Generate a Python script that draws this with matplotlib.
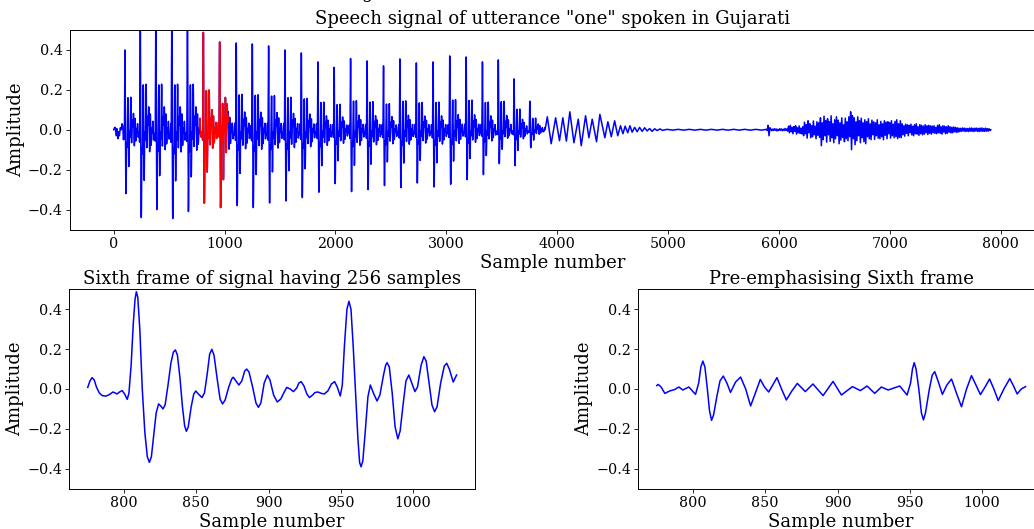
import numpy as np
import matplotlib
matplotlib.use("Agg")
import matplotlib.pyplot as plt

plt.rcParams['font.family'] = ['DejaVu Serif']

# ---------------- data ----------------
# Sixth frame (samples 775..1030) -- keypoints of the waveform
frame_x = [775, 776.5, 778, 779.5, 781, 783, 785, 787.5, 790, 792.4, 794, 795.2, 797, 798.8,
           800.5, 802.3, 803.5, 805, 806.5, 807.7, 808.6, 809.6, 811, 812.7, 814.5, 816.2,
           817.6, 819, 820.5, 822.3, 824, 825.5, 827, 828.5, 830.5, 832.5, 834.2, 835.6,
           837, 838.7, 840.5, 842, 843.2, 844.5, 846.5, 848.3, 849.7, 851.5, 854, 855.7,
           857.5, 859.3, 860.8, 862.3, 864.5, 866.5, 868.2, 870, 872.5, 874.5, 875.6, 877.5,
           879.5, 881.5, 883.5, 884.9, 886.5, 889, 891.3, 893, 894.7, 897, 899.2, 901,
           903.5, 906, 908.5, 910.5, 912.6, 915, 917.2, 919.5, 921, 922.5, 924.5, 926.5,
           928.3, 930.5, 932, 934.1, 936.5, 938.5, 941, 943.5, 945.7, 947.5, 949.6, 951,
           952.5, 954.2, 955.6, 957, 958.5, 960.2, 961.8, 963, 964, 965.2, 966.8, 968.7,
           970.4, 972.5, 975, 977, 979.5, 981, 982, 983.5, 985.5, 987.5, 989.4, 991, 993,
           995, 997, 999, 1001.2, 1003, 1005.5, 1007.4, 1009, 1011, 1013, 1014.8, 1016.5,
           1019, 1021.5, 1023.2, 1025, 1027.7, 1030]
frame_y = [0.008, 0.040, 0.057, 0.045, 0.010, -0.020, -0.033, -0.036, -0.028, -0.015, -0.020,
           -0.025, -0.015, -0.008, -0.025, -0.052, -0.020, 0.120, 0.330, 0.450, 0.488, 0.460,
           0.300, 0.000, -0.220, -0.340, -0.368, -0.340, -0.240, -0.120, -0.075, -0.085,
           -0.100, -0.080, 0.020, 0.130, 0.185, 0.196, 0.170, 0.060, -0.090, -0.185, -0.212,
           -0.190, -0.090, -0.025, -0.010, -0.025, -0.043, -0.020, 0.070, 0.175, 0.199,
           0.170, 0.050, -0.050, -0.075, -0.055, 0.010, 0.050, 0.059, 0.040, 0.020, 0.040,
           0.090, 0.100, 0.085, 0.010, -0.070, -0.092, -0.070, 0.030, 0.069, 0.045, -0.030,
           -0.065, -0.050, -0.020, 0.008, 0.000, -0.013, 0.005, 0.030, 0.037, 0.015, -0.025,
           -0.043, -0.030, -0.018, -0.015, -0.022, -0.025, -0.010, 0.025, 0.037, 0.010,
           -0.035, 0.020, 0.220, 0.400, 0.440, 0.400, 0.220, -0.020, -0.250, -0.370, -0.390,
           -0.360, -0.220, -0.040, 0.020, -0.020, -0.060, -0.030, 0.070, 0.120, 0.132, 0.110,
           -0.020, -0.190, -0.250, -0.210, -0.080, 0.040, 0.070, 0.030, -0.013, 0.010, 0.120,
           0.162, 0.140, 0.030, -0.080, -0.114, -0.090, 0.030, 0.115, 0.129, 0.100, 0.035,
           0.070]

# Pre-emphasised sixth frame -- keypoints
pre_x = [775, 776, 778, 780.6, 783.9, 787.3, 790.3, 793, 797.2, 801.8, 804, 805.5, 806.9,
         808.3, 810, 811.5, 812.9, 814.3, 816.5, 818.7, 821, 823.5, 826, 829.5, 833, 836.5,
         839.9, 843.2, 846.6, 849.5, 852.4, 855.2, 858.1, 861.3, 864.6, 868.4, 872.2, 877.7,
         883, 890, 896.9, 902.7, 910.3, 915.8, 920.4, 925.7, 930.3, 935, 943, 948.1, 950.5,
         951.8, 953, 954.3, 956.2, 958, 959.4, 960.8, 963.5, 965.5, 967.2, 969.5, 972.5,
         975.6, 978.8, 982.2, 985.7, 989.2, 992.6, 995.7, 998.8, 1002, 1005.1, 1008.1,
         1011.1, 1015, 1019.1, 1021.7, 1024.2, 1027, 1030]
pre_y = [0.017, 0.023, 0.010, -0.022, -0.010, -0.003, 0.010, -0.005, 0.010, -0.027, 0.030,
         0.110, 0.140, 0.110, 0.000, -0.110, -0.157, -0.130, -0.040, 0.040, 0.065, 0.030,
         -0.017, 0.035, 0.060, 0.000, -0.085, -0.020, 0.048, 0.010, -0.015, 0.020, 0.057,
         0.000, -0.055, -0.010, 0.028, -0.013, 0.025, -0.033, 0.038, -0.030, 0.012, -0.008,
         0.015, -0.022, 0.010, -0.005, 0.015, -0.030, 0.030, 0.100, 0.132, 0.100, 0.000,
         -0.120, -0.155, -0.120, 0.000, 0.070, 0.087, 0.040, -0.027, 0.020, 0.050, -0.020,
         -0.089, 0.000, 0.067, 0.020, -0.028, 0.010, 0.050, 0.000, -0.058, 0.000, 0.052,
         0.015, -0.025, 0.000, 0.012]

# Full utterance: onset wiggles
start_x = [0, 8, 15, 22, 30, 38, 45, 52, 60, 68, 75, 82, 88]
start_y = [0.0, 0.010, 0.012, -0.030, 0.005, -0.045, -0.010, -0.030, 0.010, 0.000, 0.030,
           0.020, -0.050]

# Glottal pulses: sample position, peak and trough amplitude
pulse_pos = [102, 240, 380, 524, 665, 808.6, 955.6, 1105, 1250, 1397, 1545, 1692, 1842,
             1988, 2136, 2285, 2433, 2581, 2729, 2880, 3030, 3178, 3325, 3468, 3610, 3752]
pulse_peak = [0.40, 0.56, 0.56, 0.56, 0.56, 0.488, 0.44, 0.435, 0.43, 0.42, 0.40, 0.385,
              0.34, 0.313, 0.357, 0.345, 0.32, 0.355, 0.335, 0.34, 0.37, 0.365, 0.34, 0.35,
              0.255, 0.143]
pulse_trough = [-0.32, -0.44, -0.40, -0.445, -0.41, -0.368, -0.39, -0.38, -0.39, -0.367,
                -0.357, -0.34, -0.313, -0.27, -0.31, -0.30, -0.28, -0.29, -0.267, -0.287,
                -0.273, -0.25, -0.225, -0.17, -0.18, -0.09]

# Decaying vowel tail and silence
tail_x = [3910, 3945, 3985, 4020, 4050, 4082, 4113, 4150, 4189, 4216, 4255, 4285, 4315,
          4354, 4384, 4429, 4456, 4487, 4517, 4545, 4570, 4592, 4612, 4635, 4655, 4675,
          4698, 4720, 4742, 4765, 4788, 4810, 4832, 4855, 4878, 4900, 4925, 4950, 4990,
          5040, 5090, 5140, 5190, 5240, 5290, 5340, 5390, 5440, 5490, 5540, 5590, 5640,
          5690, 5740, 5790, 5840, 5875]
tail_y = [0.065, -0.070, 0.060, -0.055, 0.060, -0.057, 0.090, -0.065, 0.053, -0.080, 0.070,
          -0.040, 0.053, -0.060, 0.077, -0.040, 0.040, -0.035, 0.045, -0.030, 0.020, -0.020,
          0.018, -0.015, 0.020, -0.012, 0.012, -0.010, 0.012, -0.008, 0.010, -0.006, 0.006,
          -0.008, 0.005, -0.004, 0.004, -0.003, 0.002, -0.002, 0.002, -0.002, 0.002, -0.002,
          0.002, -0.002, 0.002, -0.002, 0.002, -0.002, 0.002, -0.002, 0.002, -0.002, 0.002,
          -0.002, 0.001]

# Final fricative noise, one value every 8 samples from 5885
noise_start = 5885
noise_step = 8
noise_y = [
    0.002, -0.004,
    0.022, -0.030, 0.010,
    0.004, -0.005, 0.003, -0.004, 0.005, -0.003, 0.004, -0.006, 0.002, -0.004,
    0.005, -0.003, 0.004, -0.005, 0.003, -0.004, 0.006, -0.003, 0.004, -0.007,
    0.018, -0.015, 0.022, -0.010, 0.012, -0.020, 0.016, -0.008, 0.020, -0.022,
    0.010, -0.015, 0.019, -0.018, 0.008, -0.021, 0.015,
    -0.030, 0.038, -0.020, 0.025, -0.042, 0.045, -0.015, 0.030, -0.040, 0.020,
    -0.035, 0.044, -0.025, 0.018, -0.045, 0.040, -0.028, 0.035, -0.038,
    0.060, -0.080, 0.035, -0.050, 0.068, -0.030, 0.045, -0.062, 0.055, -0.025,
    0.040, -0.058, 0.070, -0.040, 0.030, -0.065, 0.050, -0.045, 0.065, -0.030,
    0.048, -0.070, 0.035, -0.052, 0.060, -0.038, 0.025, -0.060, 0.058, -0.045,
    0.040, -0.055, 0.065, -0.035,
    0.090, -0.100, 0.070,
    -0.045, 0.060, -0.075, 0.040, -0.055, 0.065, -0.030, 0.045, -0.065, 0.058,
    -0.040, 0.035, -0.060, 0.050, -0.070, 0.040, -0.035,
    0.055, -0.045, 0.030, -0.050, 0.048, -0.025, 0.040, -0.048, 0.035, -0.030,
    0.050, -0.042, 0.025, -0.045, 0.042, -0.035, 0.030, -0.050, 0.045, -0.028,
    0.038, -0.045, 0.040, -0.020, 0.035, -0.042, 0.045, -0.030, 0.028, -0.040,
    0.042, -0.035, 0.050, -0.045, 0.030, -0.038, 0.045, -0.040,
    0.030, -0.025, 0.020, -0.032, 0.028, -0.018, 0.025, -0.030, 0.022, -0.015,
    0.028, -0.026, 0.018, -0.030, 0.025, -0.020, 0.030, -0.022, 0.015, -0.028,
    0.026, -0.020, 0.022, -0.025, 0.018, -0.022, 0.025, -0.015, 0.020, -0.024,
    0.022, -0.018, 0.020, -0.022,
    0.018, -0.015, 0.020, -0.018, 0.012, -0.020, 0.022, -0.015, 0.025, -0.018,
    0.015, -0.022, 0.020, -0.012, 0.018, -0.020, 0.015, -0.018, 0.020, -0.012,
    0.015, -0.016, 0.012, -0.015, 0.014, -0.010, 0.012, -0.013, 0.010, -0.012,
    0.008, -0.009, 0.007, -0.008, 0.009, -0.006, 0.008, -0.009, 0.007, -0.008,
    0.006, -0.009, 0.008, -0.007, 0.009, -0.008, 0.007, -0.009, 0.008, -0.006,
    0.008, -0.008, 0.007, -0.009, 0.008, -0.007, 0.009, -0.008, 0.006, -0.008,
    0.008, -0.007, 0.006, -0.007, 0.005, -0.004, 0.000]

frame_start, frame_end = 775, 1030

# ---------------- build the full utterance from the read pieces ----------------
fx = np.array(frame_x)
fy = np.array(frame_y)
ref_peak = fx[np.argmax(fy)]
ref_pos = fy.max()
ref_neg = -fy[(fx > ref_peak) & (fx < ref_peak + 15)].min()
tm = (fx >= ref_peak - 8.5) & (fx <= ref_peak + 140)
t_off, t_val = fx[tm] - ref_peak, fy[tm]

xs, ys = list(start_x), list(start_y)
for k, p in enumerate(pulse_pos):
    nxt = pulse_pos[k + 1] if k + 1 < len(pulse_pos) else p + 150
    for o, v in zip(t_off, t_val):
        x = p + o
        if x <= xs[-1] or x >= nxt + t_off[0]:
            continue
        s = pulse_peak[k] / ref_pos if v > 0 else -pulse_trough[k] / ref_neg
        xs.append(x)
        ys.append(v * s)
xs, ys = np.array(xs), np.array(ys)
before = xs < frame_start
after = xs > frame_end
sig_x = np.concatenate([xs[before], fx, xs[after]])
sig_y = np.concatenate([ys[before], fy, ys[after]])
tx, ty = np.array(tail_x), np.array(tail_y)
tmask = tx > sig_x[-1]
sig_x = np.concatenate([sig_x, tx[tmask]])
sig_y = np.concatenate([sig_y, ty[tmask]])
nx = noise_start + noise_step * np.arange(len(noise_y))
sig_x = np.concatenate([sig_x, nx])
sig_y = np.concatenate([sig_y, np.array(noise_y)])

# ---------------- figure ----------------
W, H = 1034, 529
fig = plt.figure(figsize=(W / 100, H / 100), dpi=100)

ax_top = fig.add_axes([69.8 / W, (H - 229.5) / H, 965 / W, 199.5 / H])
ax_bl = fig.add_axes([69.3 / W, (H - 488.7) / H, 405.7 / W, 199.4 / H])
ax_br = fig.add_axes([638.3 / W, (H - 488.7) / H, 405.7 / W, 199.4 / H])

lw = 1.1
ax_top.plot(sig_x, sig_y, color='b', lw=lw)
ax_top.plot(fx, fy, color='r', lw=lw)
ax_top.set_xlim(-395.5, 8305.5)
ax_top.set_title('Speech signal of utterance "one" spoken in Gujarati', fontsize=13, pad=4.5)

ax_bl.plot(frame_x, frame_y, color='b', lw=lw)
ax_bl.set_title('Sixth frame of signal having 256 samples', fontsize=13, pad=4)

ax_br.plot(pre_x, pre_y, color='b', lw=lw)
ax_br.set_title('Pre-emphasising Sixth frame', fontsize=13, pad=4)

for ax in (ax_bl, ax_br):
    ax.set_xlim(frame_start - 12.75, frame_end + 12.75)

for ax in (ax_top, ax_bl, ax_br):
    ax.set_ylim(-0.5, 0.5)
    ax.set_yticks([-0.4, -0.2, 0.0, 0.2, 0.4])
    ax.set_xlabel('Sample number', fontsize=13, labelpad=2)
    ax.set_ylabel('Amplitude', fontsize=13, labelpad=2)
    ax.tick_params(labelsize=10.3, length=2.6, width=0.6, pad=2.6)
    for sp in ax.spines.values():
        sp.set_linewidth(0.7)

fig.text(367 / W, 1 + 1.5 / H, 'g', fontsize=13, ha='center', va='baseline')

fig.savefig('out.png', dpi=100)
